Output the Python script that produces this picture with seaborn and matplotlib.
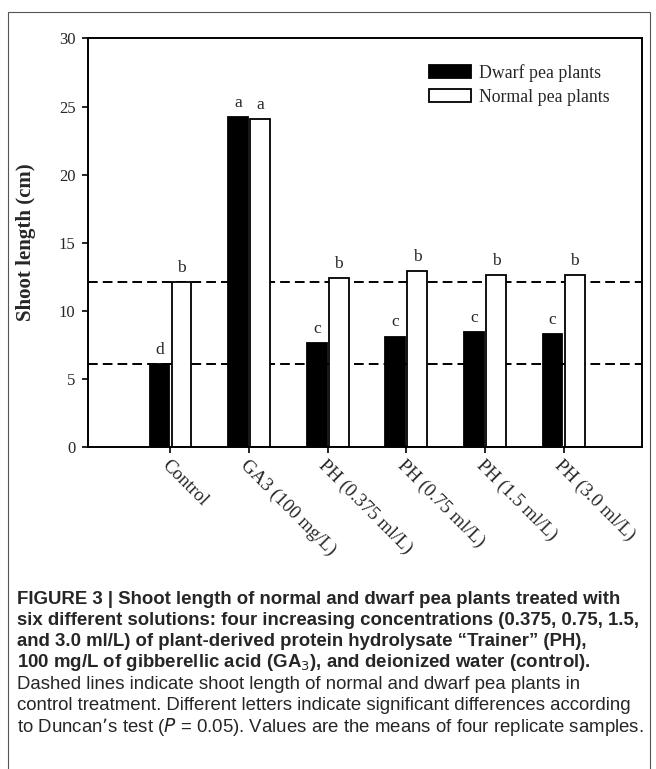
import numpy as np
import pandas as pd
import seaborn as sns
import matplotlib.pyplot as plt
from matplotlib.patches import Rectangle

# values
treatments = ['Control', 'GA3 (100 mg/L)', 'PH (0.375 ml/L)',
              'PH (0.75 ml/L)', 'PH (1.5 ml/L)', 'PH (3.0 ml/L)']
dwarf = [6.1, 24.2, 7.6, 8.1, 8.4, 8.3]
normal = [12.1, 24.1, 12.4, 12.9, 12.6, 12.6]
dwarf_letters = ['d', 'a', 'c', 'c', 'c', 'c']
normal_letters = ['b', 'a', 'b', 'b', 'b', 'b']
groups = ['Dwarf pea plants', 'Normal pea plants']

df = pd.DataFrame({
    'treatment': treatments * 2,
    'length': dwarf + normal,
    'plant': [groups[0]] * 6 + [groups[1]] * 6,
})

sns.set_style('white')
serif = ['Liberation Serif', 'DejaVu Serif']

fig = plt.figure(figsize=(6.56, 7.69), dpi=100)
ax = fig.add_axes([0.134, 0.419, 0.845, 0.531])

sns.barplot(data=df, x='treatment', y='length', hue='plant', ax=ax,
            palette={groups[0]: 'black', groups[1]: 'white'},
            edgecolor='black', linewidth=1.3, width=0.56, gap=0.1,
            errorbar=None)

# dashed reference lines = control values
ax.axhline(dwarf[0], color='black', ls=(0, (5, 2.6)), lw=1.4, zorder=0.5)
ax.axhline(normal[0], color='black', ls=(0, (5, 2.6)), lw=1.4, zorder=0.5)

# significance letters
for cont, letters in zip(ax.containers, [dwarf_letters, normal_letters]):
    for bar, let in zip(cont, letters):
        ax.text(bar.get_x() + bar.get_width() / 2, bar.get_height() + 0.45, let,
                ha='center', va='bottom', fontsize=12.5, family=serif)

ax.set_ylim(0, 30)
ax.set_xlim(-1.05, 6.0)
ax.set_yticks(range(0, 31, 5))
ax.set_xlabel('')
ax.set_ylabel('Shoot length (cm)', fontsize=15, fontweight='bold', family=serif,
              labelpad=16)
for lab in ax.get_yticklabels():
    lab.set_family(serif)
    lab.set_fontsize(12)
ax.set_xticks(range(6))
ax.set_xticklabels(treatments, rotation=-45, ha='left', rotation_mode='anchor',
                   family=serif, fontsize=13.5)
ax.tick_params(axis='both', direction='out', length=4, width=1.2, color='black',
               left=True, bottom=True, pad=3)
ax.tick_params(axis='y', pad=5)
for s in ax.spines.values():
    s.set_color('black')
    s.set_linewidth(1.4)

leg = ax.legend(loc='upper left', bbox_to_anchor=(0.615, 0.938), frameon=False,
                borderpad=0, borderaxespad=0, handlelength=2.4,
                handleheight=0.75, labelspacing=0.4, handletextpad=0.45,
                prop={'family': serif, 'size': 12.8})

# outer frame of the figure panel
fig.patches.append(Rectangle((8 / 656, -0.05), 642 / 656, 1 - 12 / 769 + 0.05,
                             transform=fig.transFigure, fill=False,
                             edgecolor='#555555', lw=0.8))

cap_font = ['Liberation Sans', 'DejaVu Sans']
bold_lines = [
    'FIGURE 3 | Shoot length of normal and dwarf pea plants treated with',
    'six different solutions: four increasing concentrations (0.375, 0.75, 1.5,',
    'and 3.0 ml/L) of plant-derived protein hydrolysate \u201cTrainer\u201d (PH),',
    '100 mg/L of gibberellic acid (GA$_3$), and deionized water (control).',
]
plain_lines = [
    'Dashed lines indicate shoot length of normal and dwarf pea plants in',
    'control treatment. Different letters indicate significant differences according',
    'to Duncan\u2019s test ($P$ = 0.05). Values are the means of four replicate samples.',
]
y0 = 599
for i, line in enumerate(bold_lines + plain_lines):
    fig.text(17 / 656, 1 - (y0 + i * 21.3) / 769, line, ha='left', va='center',
             fontsize=13.4, family=cap_font,
             fontweight='bold' if i < 4 else 'normal')

fig.savefig('out.png', dpi=100)
